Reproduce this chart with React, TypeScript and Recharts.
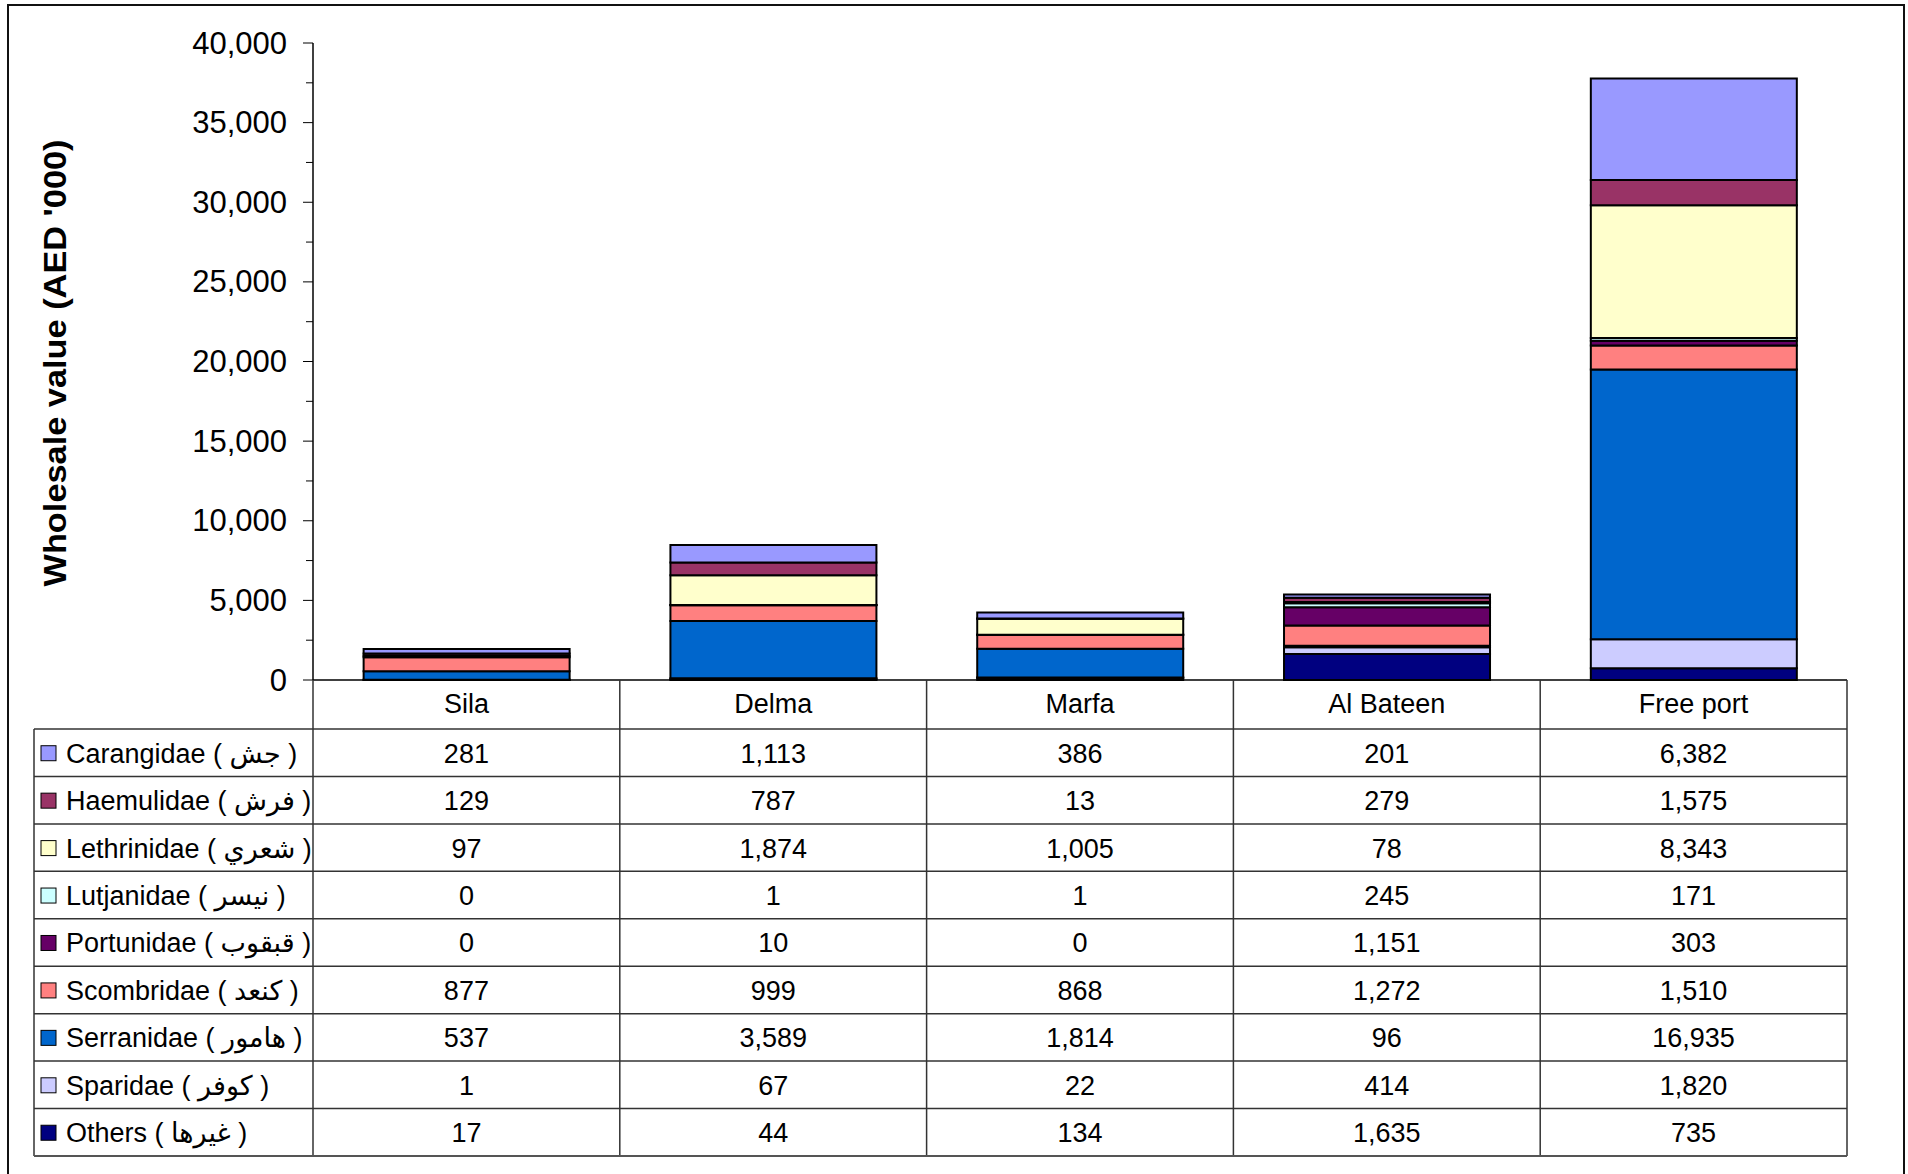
import React from "react";
import { BarChart, Bar, XAxis, YAxis } from "recharts";

// categories (landing sites) and tick labels
const sites = ["Sila", "Delma", "Marfa", "Al Bateen", "Free port"];
const yTicks = [
  0, 2500, 5000, 7500, 10000, 12500, 15000, 17500, 20000, 22500, 25000, 27500,
  30000, 32500, 35000, 37500, 40000,
];

// wholesale value per family (AED '000), one array per series
const carangidae = [281, 1113, 386, 201, 6382];
const haemulidae = [129, 787, 13, 279, 1575];
const lethrinidae = [97, 1874, 1005, 78, 8343];
const lutjanidae = [0, 1, 1, 245, 171];
const portunidae = [0, 10, 0, 1151, 303];
const scombridae = [877, 999, 868, 1272, 1510];
const serranidae = [537, 3589, 1814, 96, 16935];
const sparidae = [1, 67, 22, 414, 1820];
const others = [17, 44, 134, 1635, 735];

// table order (top to bottom) = legend order
const series = [
  { key: "carangidae", label: "Carangidae ( جش )", color: "#9999FF", values: carangidae },
  { key: "haemulidae", label: "Haemulidae ( فرش )", color: "#993366", values: haemulidae },
  { key: "lethrinidae", label: "Lethrinidae ( شعري )", color: "#FFFFCC", values: lethrinidae },
  { key: "lutjanidae", label: "Lutjanidae ( نيسر )", color: "#CCFFFF", values: lutjanidae },
  { key: "portunidae", label: "Portunidae ( قبقوب )", color: "#660066", values: portunidae },
  { key: "scombridae", label: "Scombridae ( كنعد )", color: "#FF8080", values: scombridae },
  { key: "serranidae", label: "Serranidae ( هامور )", color: "#0066CC", values: serranidae },
  { key: "sparidae", label: "Sparidae ( كوفر )", color: "#CCCCFF", values: sparidae },
  { key: "others", label: "Others ( غيرها )", color: "#000080", values: others },
];

const data = sites.map((site, i) => {
  const row: Record<string, string | number> = { site };
  series.forEach((s) => (row[s.key] = s.values[i]));
  return row;
});

// layout
const W = 1908;
const H = 1174;
const FONT = "'Liberation Sans', Arial, 'DejaVu Sans', sans-serif";
const AXIS_X = 313;
const PLOT_RIGHT = 1847;
const PLOT_TOP = 43;
const ZERO_Y = 680;
const HEADER_H = 49;
const ROW_H = 47.44;
const TABLE_LEFT = 34;
const COL_W = (PLOT_RIGHT - AXIS_X) / sites.length;
const CHART_H = 730;

const fmt = (v: number) => v.toLocaleString("en-US");

const YTick = (props: any) => {
  const { y, payload } = props;
  const major = payload.value % 5000 === 0;
  return (
    <g>
      <line x1={AXIS_X - (major ? 10 : 7)} x2={AXIS_X} y1={y} y2={y} stroke="#000" strokeWidth={1} />
      {major && (
        <text x={287} y={y} textAnchor="end" dominantBaseline="central" fontSize={31} fill="#000" fontFamily={FONT}>
          {fmt(payload.value)}
        </text>
      )}
    </g>
  );
};

const XTick = (props: any) => {
  const { x, payload } = props;
  return (
    <text x={x} y={ZERO_Y + HEADER_H / 2 - 1} textAnchor="middle" dominantBaseline="central" fontSize={27} fill="#000" fontFamily={FONT}>
      {payload.value}
    </text>
  );
};

const DataTable = () => {
  const tableTop = ZERO_Y + HEADER_H;
  const tableBottom = tableTop + ROW_H * series.length;
  const lineColor = "#333";
  return (
    <svg width={W} height={H} style={{ position: "absolute", left: 0, top: 0, pointerEvents: "none" }}>
      {/* column separators */}
      {sites.map((_, i) => (
        <line key={`c${i}`} x1={AXIS_X + i * COL_W} x2={AXIS_X + i * COL_W} y1={ZERO_Y} y2={tableBottom} stroke={lineColor} strokeWidth={1.5} />
      ))}
      <line x1={PLOT_RIGHT} x2={PLOT_RIGHT} y1={ZERO_Y} y2={tableBottom} stroke={lineColor} strokeWidth={1.5} />
      <line x1={TABLE_LEFT} x2={TABLE_LEFT} y1={tableTop} y2={tableBottom} stroke={lineColor} strokeWidth={1.5} />
      {/* row separators */}
      {series.map((_, i) => (
        <line key={`r${i}`} x1={TABLE_LEFT} x2={PLOT_RIGHT} y1={tableTop + i * ROW_H} y2={tableTop + i * ROW_H} stroke={lineColor} strokeWidth={1.5} />
      ))}
      <line x1={TABLE_LEFT} x2={PLOT_RIGHT} y1={tableBottom} y2={tableBottom} stroke="#555" strokeWidth={2} />
      {series.map((s, r) => {
        const cy = tableTop + (r + 0.5) * ROW_H;
        return (
          <g key={s.key}>
            <rect x={41} y={cy - 7} width={15} height={15} fill={s.color} stroke="#000" strokeWidth={1} />
            <text x={66} y={cy + 1} dominantBaseline="central" fontSize={27} fontFamily={FONT} fill="#000">
              {s.label}
            </text>
            {s.values.map((v, c) => (
              <text key={c} x={AXIS_X + (c + 0.5) * COL_W} y={cy + 1} textAnchor="middle" dominantBaseline="central" fontSize={27} fontFamily={FONT} fill="#000">
                {fmt(v)}
              </text>
            ))}
          </g>
        );
      })}
      {/* outer frame */}
      <rect x={8} y={5} width={1896} height={1180} fill="none" stroke="#111" strokeWidth={2} />
      {/* y axis title */}
      <text
        x={55}
        y={363}
        transform="rotate(-90 55 363)"
        textAnchor="middle"
        dominantBaseline="central"
        fontSize={31}
        fontWeight="bold"
        fontFamily={FONT}
        textLength={447}
        lengthAdjust="spacingAndGlyphs"
        fill="#000"
      >
        Wholesale value (AED '000)
      </text>
    </svg>
  );
};

export default function App() {
  const stackOrder = [...series].reverse(); // first Bar sits at the bottom of the stack
  return (
    <div style={{ position: "absolute", left: 0, top: 0, width: W, height: H, background: "#fff", fontFamily: FONT }}>
      <div style={{ position: "absolute", left: 0, top: 0 }}>
        <BarChart
          width={W}
          height={CHART_H}
          data={data}
          margin={{ top: PLOT_TOP, right: W - PLOT_RIGHT, bottom: CHART_H - ZERO_Y - HEADER_H, left: 0 }}
          barCategoryGap="16.5%"
        >
          <XAxis
            dataKey="site"
            height={HEADER_H}
            tickLine={false}
            axisLine={{ stroke: "#000", strokeWidth: 1.5 }}
            tick={<XTick />}
            interval={0}
          />
          <YAxis
            width={AXIS_X}
            domain={[0, 40000]}
            ticks={yTicks}
            interval={0}
            tickLine={false}
            axisLine={{ stroke: "#000", strokeWidth: 1.5 }}
            tick={<YTick />}
          />
          {stackOrder.map((s) => (
            <Bar key={s.key} dataKey={s.key} stackId="a" fill={s.color} stroke="#000" strokeWidth={2} isAnimationActive={false} />
          ))}
        </BarChart>
      </div>
      <DataTable />
    </div>
  );
}
